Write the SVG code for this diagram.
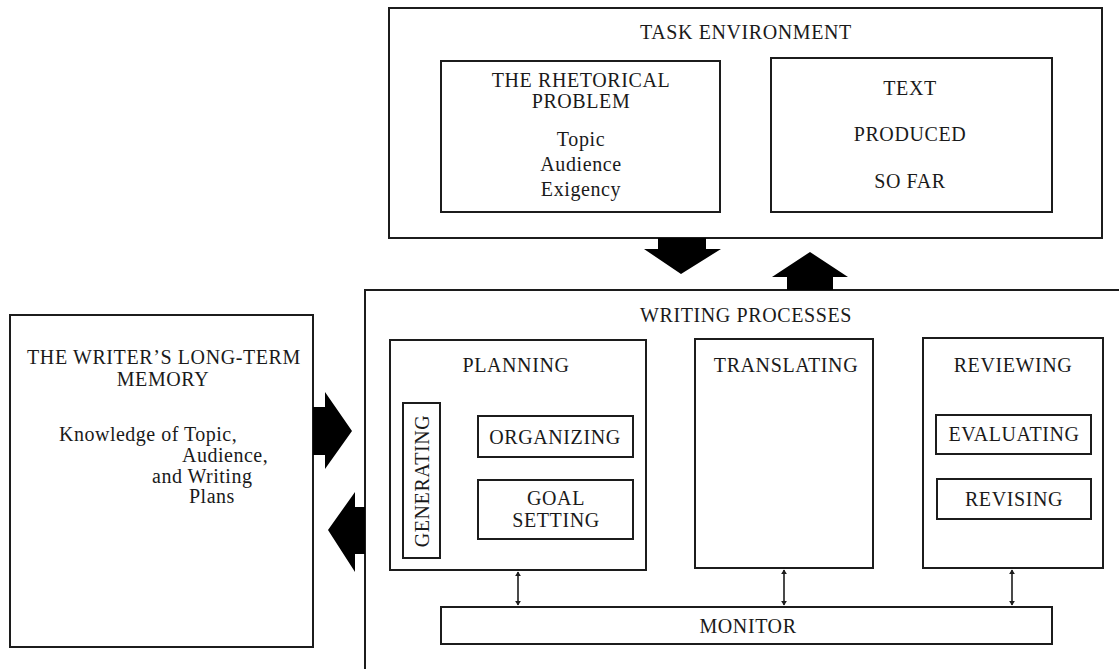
<svg xmlns="http://www.w3.org/2000/svg" width="1119" height="669" viewBox="0 0 1119 669">
  <style>
    .box { fill: none; stroke: #1c1c1c; stroke-width: 2; }
    .hd { font-family: "Liberation Serif", "Times New Roman", serif; font-size: 20px; letter-spacing: 0.6px; fill: #1a1a1a; text-anchor: middle; }
    .tx { font-family: "Liberation Serif", "Times New Roman", serif; font-size: 20px; letter-spacing: 0.5px; fill: #1a1a1a; }
    .big { fill: #000; }
    .thin { fill: none; stroke: #1c1c1c; stroke-width: 1.6; }
  </style>
  <defs>
    <marker id="tip" viewBox="0 0 8 10" refX="7" refY="5" markerWidth="5" markerHeight="6" orient="auto-start-reverse" markerUnits="userSpaceOnUse">
      <path d="M0,0 L8,5 L0,10 Z" fill="#1c1c1c"/>
    </marker>
  </defs>
  <rect width="1119" height="669" fill="#fff"/>

  <!-- Task environment -->
  <g id="task-environment">
    <rect class="box" x="389" y="8" width="713" height="230"/>
    <text class="hd" x="746" y="39">TASK ENVIRONMENT</text>
  </g>
  <g id="rhetorical-problem">
    <rect class="box" x="441" y="61" width="279" height="151"/>
    <text class="hd" x="581" y="87">THE RHETORICAL</text>
    <text class="hd" x="581" y="108">PROBLEM</text>
    <text class="hd" x="581" y="146">Topic</text>
    <text class="hd" x="581" y="171">Audience</text>
    <text class="hd" x="581" y="196">Exigency</text>
  </g>
  <g id="text-produced">
    <rect class="box" x="771" y="58" width="281" height="154"/>
    <text class="hd" x="910" y="95">TEXT</text>
    <text class="hd" x="910" y="141">PRODUCED</text>
    <text class="hd" x="910" y="188">SO FAR</text>
  </g>

  <!-- Long-term memory -->
  <g id="long-term-memory">
    <rect class="box" x="10" y="315" width="303" height="332"/>
    <text class="hd" x="164" y="364">THE WRITER’S LONG-TERM</text>
    <text class="hd" x="163" y="386">MEMORY</text>
    <text class="tx" x="59" y="441">Knowledge of Topic,</text>
    <text class="tx" x="182" y="462">Audience,</text>
    <text class="tx" x="152" y="483">and Writing</text>
    <text class="tx" x="189" y="503">Plans</text>
  </g>

  <!-- Writing processes -->
  <g id="writing-processes">
    <path class="box" d="M365,669 V290 H1125"/>
    <text class="hd" x="746" y="322">WRITING PROCESSES</text>
  </g>
  <g id="planning">
    <rect class="box" x="390" y="340" width="256" height="230"/>
    <text class="hd" x="516" y="372">PLANNING</text>
  </g>
  <g id="generating">
    <rect class="box" x="403" y="403" width="37" height="155"/>
    <text class="hd" transform="translate(428.5,481) rotate(-90)" x="0" y="0">GENERATING</text>
  </g>
  <g id="organizing">
    <rect class="box" x="478" y="416" width="155" height="41"/>
    <text class="hd" x="555" y="444">ORGANIZING</text>
  </g>
  <g id="goal-setting">
    <rect class="box" x="478" y="480" width="155" height="59"/>
    <text class="hd" x="556" y="505">GOAL</text>
    <text class="hd" x="556" y="527">SETTING</text>
  </g>
  <g id="translating">
    <rect class="box" x="695" y="339" width="178" height="229"/>
    <text class="hd" x="786" y="372">TRANSLATING</text>
  </g>
  <g id="reviewing">
    <rect class="box" x="923" y="338" width="180" height="230"/>
    <text class="hd" x="1013" y="372">REVIEWING</text>
  </g>
  <g id="evaluating">
    <rect class="box" x="936" y="415" width="155" height="39"/>
    <text class="hd" x="1014" y="441">EVALUATING</text>
  </g>
  <g id="revising">
    <rect class="box" x="937" y="479" width="154" height="40"/>
    <text class="hd" x="1014" y="506">REVISING</text>
  </g>
  <g id="monitor">
    <rect class="box" x="441" y="607" width="611" height="37"/>
    <text class="hd" x="748" y="633">MONITOR</text>
  </g>

  <!-- Connectors -->
  <g id="connectors">
    <!-- block arrows between memory, environment and writing processes -->
    <polygon class="big" points="658,238 706,238 706,249 721,249 681,274 644,249 658,249"/>
    <polygon class="big" points="787,290 833,290 833,277 848,277 810,252 772,277 787,277"/>
    <polygon class="big" points="313,407 325,407 325,392 352,431 325,469 325,455 313,455"/>
    <polygon class="big" points="365,507 355,507 355,492 328,530 355,572 355,554 365,554"/>
    <!-- two-way links to the monitor -->
    <line class="thin" x1="518" y1="572" x2="518" y2="605" marker-start="url(#tip)" marker-end="url(#tip)"/>
    <line class="thin" x1="784" y1="570" x2="784" y2="605" marker-start="url(#tip)" marker-end="url(#tip)"/>
    <line class="thin" x1="1012" y1="570" x2="1012" y2="605" marker-start="url(#tip)" marker-end="url(#tip)"/>
  </g>
</svg>
